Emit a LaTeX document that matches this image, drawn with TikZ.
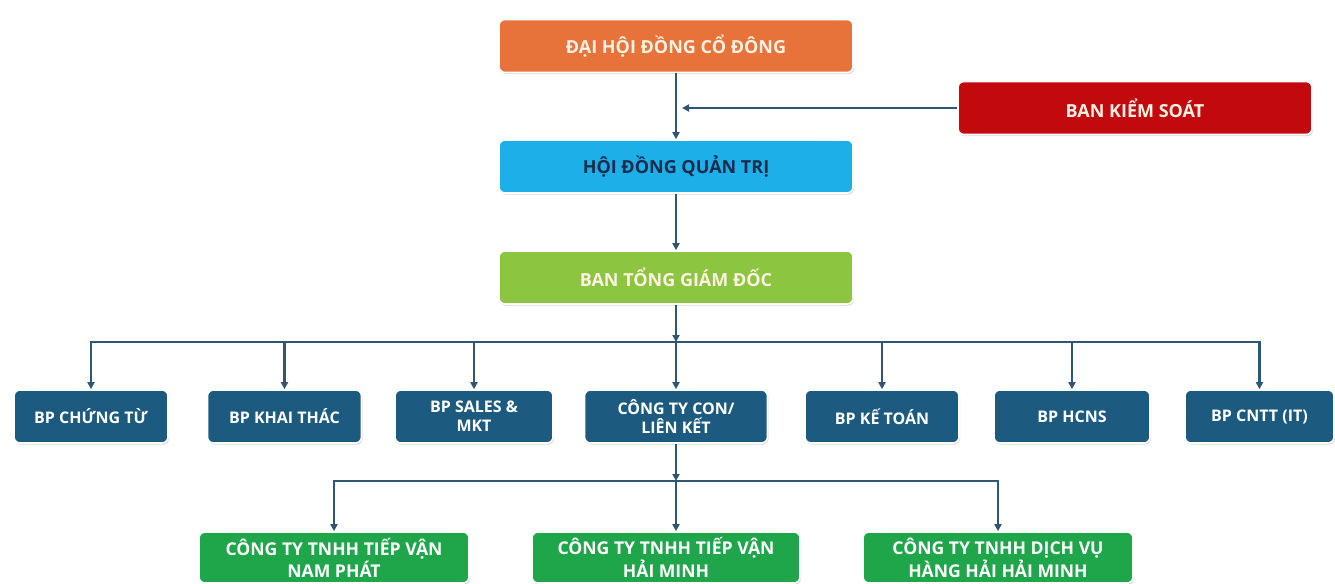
\documentclass[tikz,border=0pt]{standalone}
\usepackage{fontspec}
\setmainfont{Open Sans}
\usetikzlibrary{positioning, shadows, arrows.meta}
\definecolor{dhcdorange}{HTML}{E8733A}
\definecolor{bksred}{HTML}{C20A0E}
\definecolor{hdqtblue}{HTML}{1CAFE8}
\definecolor{btgdgreen}{HTML}{8CC540}
\definecolor{deptblue}{HTML}{1C5A80}
\definecolor{compgreen}{HTML}{20A64A}
\definecolor{linkblue}{HTML}{2F5674}
\definecolor{navytext}{HTML}{1A2B4C}
\definecolor{creamtext}{HTML}{FFF1E4}
\tikzset{%
  block/.style    = {rectangle, rounded corners = 3pt, draw = white, line width = 0.8pt,
    drop shadow = {shadow xshift = 0.5pt, shadow yshift = -0.8pt, opacity = 0.3},
    font = \bfseries\fontsize{8}{9.5}\selectfont, align = center, inner sep = 2pt},
  topblock/.style = {block, font = \bfseries\fontsize{9}{10.5}\selectfont,
    minimum width = 177pt, minimum height = 26.5pt}, % upper levels
  dept/.style     = {block, fill = deptblue, text = white, minimum width = 77pt,
    minimum height = 26.5pt}, % departments
  company/.style  = {block, fill = compgreen, text = white, minimum width = 135pt,
    minimum height = 25.5pt, font = \bfseries\fontsize{8.8}{10}\selectfont}, % member companies
  link/.style     = {draw = linkblue, line width = 1.3pt, -{Triangle[length = 3.5pt, width = 3.5pt]}}
}

\begin{document}
\begin{tikzpicture}[x = 0.5pt, y = -0.5pt]
\fill[white] (0,0) rectangle (1335,584);
\useasboundingbox (0,0) rectangle (1335,584);
%blocks
\draw
	(676,46) node [topblock, fill = dhcdorange, text = creamtext] (dhcd) {ĐẠI HỘI ĐỒNG CỔ ĐÔNG}
	(1135,108) node [topblock, fill = bksred, text = creamtext] (bks) {BAN KIỂM SOÁT}
	(676,166.5) node [topblock, fill = hdqtblue, text = navytext] (hdqt) {HỘI ĐỒNG QUẢN TRỊ}
	(676,277.5) node [topblock, fill = btgdgreen, text = creamtext] (btgd) {BAN TỔNG GIÁM ĐỐC};
\draw
	(91,416.5) node [dept] (ct) {BP CHỨNG TỪ}
	(284.5,416.5) node [dept] (kt) {BP KHAI THÁC}
	(474,416.5) node [dept, minimum width = 79pt] (sales) {BP SALES \&\\ MKT}
	(676,416.5) node [dept, minimum width = 91.5pt] (ctcon) {CÔNG TY CON/\\ LIÊN KẾT}
	(882,416.5) node [dept] (ketoan) {BP KẾ TOÁN}
	(1072,416.5) node [dept, minimum width = 78pt] (hcns) {BP HCNS}
	(1259.5,416.5) node [dept, minimum width = 74.5pt] (cntt) {BP CNTT (IT)};
\draw
	(334,557.5) node [company] (np) {CÔNG TY TNHH TIẾP VẬN\\ NAM PHÁT}
	(666,557.5) node [company, minimum width = 134pt] (hm) {CÔNG TY TNHH TIẾP VẬN\\ HẢI MINH}
	(998,557.5) node [company] (dv) {CÔNG TY TNHH DỊCH VỤ\\ HÀNG HẢI HẢI MINH};
%lines
\coordinate (bksend) at (682,108);
\coordinate (bus) at (676,342);
\coordinate (bus2) at (676,481);
\draw[link] (dhcd) -- (hdqt);
\draw[link] (bks) -- (bksend);
\draw[link] (hdqt) -- (btgd);
\draw[link] (btgd) -- (bus);
\foreach \n in {ct, kt, sales, ctcon, ketoan, hcns, cntt}
	\draw[link] (bus) -| (\n);
%more lines
\draw[link] (ctcon) -- (bus2);
\draw[link] (bus2) -| (np);
\draw[link] (bus2) -- (bus2 |- hm.north);
\draw[link] (bus2) -| (dv);
\end{tikzpicture}
\end{document}
